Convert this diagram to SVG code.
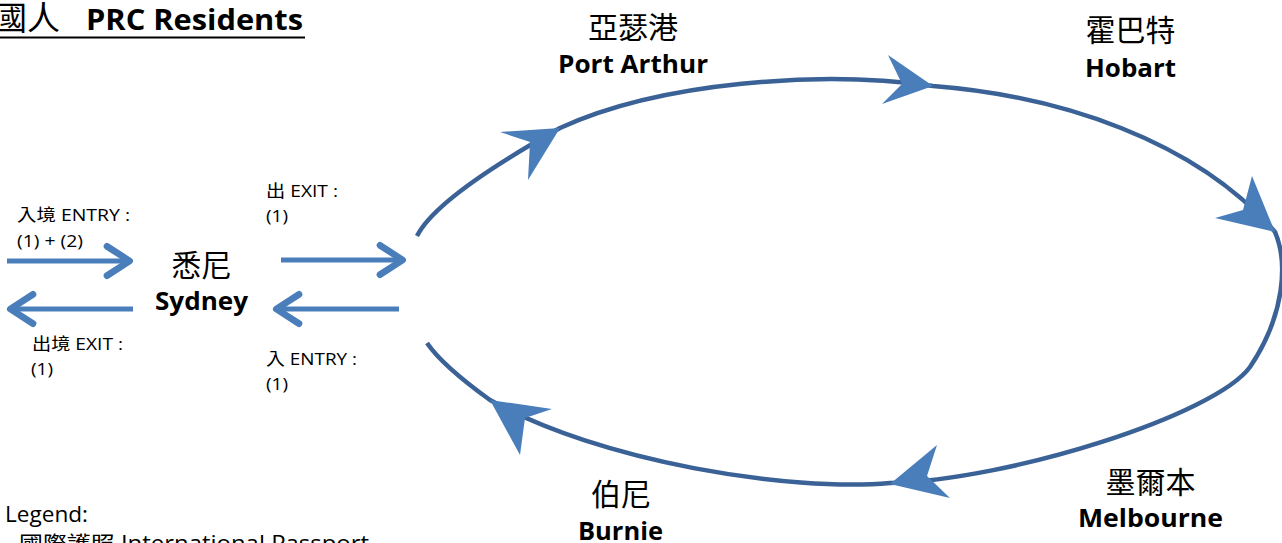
<svg xmlns="http://www.w3.org/2000/svg" width="1282" height="543" viewBox="0 0 1282 543">
<style>
text{font-family:"Open Sans","Noto Sans CJK TC",sans-serif;fill:#000}
.cjk{font-family:"Noto Sans CJK TC",sans-serif;font-size:30px}
.en{font-weight:bold;font-size:25px}
.sm{font-size:17px}
.loop{fill:none;stroke:#3B6296;stroke-width:4.5}
.head{fill:#4A7EBB;stroke:none}
.str{stroke:#4A7EBB;stroke-width:5;fill:none}
</style>
<defs>
<marker id="chev" markerUnits="userSpaceOnUse" markerWidth="40" markerHeight="40" viewBox="-25 -15 30 30" refX="0" refY="0" orient="auto" overflow="visible">
<path d="M-18,-11 L-1,0 L-18,11" fill="none" stroke="#4A7EBB" stroke-width="5" stroke-linecap="round" stroke-linejoin="round"/>
</marker>
</defs>

<g id="title">
<text x="-6" y="30" font-size="33" font-family="'Noto Sans CJK TC',sans-serif">國人</text>
<text x="86" y="30" font-size="28" font-weight="bold" textLength="217" lengthAdjust="spacingAndGlyphs">PRC Residents</text>
<line x1="0" y1="37.5" x2="305" y2="37.5" stroke="#000" stroke-width="2"/>
</g>

<g id="connectors">
<path class="loop" d="M417,236 C435,200 517,152 560,128 C660,82 820,70 933,86 C1060,96 1195,140 1275,232 C1288,262 1285,315 1250,367 C1215,415 1010,480 890,483 C790,492 600,462 490,400 C465,382 440,362 427,343"/>
<polygon class="head" points="560,128 500,132 530,142 528,180"/>
<polygon class="head" points="933,86 888,55 902,84 882,104"/>
<polygon class="head" points="1275,232 1252,176 1243,210 1215,218"/>
<polygon class="head" points="890,484 937,445 927,476 950,498"/>
<polygon class="head" points="490,400 552,409 525,418 520,455"/>
<line class="str" x1="7" y1="261" x2="131" y2="261" marker-end="url(#chev)"/>
<line class="str" x1="133" y1="309" x2="9" y2="309" marker-end="url(#chev)"/>
<line class="str" x1="281" y1="260" x2="404" y2="260" marker-end="url(#chev)"/>
<line class="str" x1="399" y1="309" x2="275" y2="309" marker-end="url(#chev)"/>
</g>

<g id="labels-sydney">
<text class="sm" x="17" y="221" textLength="113" lengthAdjust="spacingAndGlyphs">入境 ENTRY :</text>
<text class="sm" x="17" y="247" textLength="66" lengthAdjust="spacingAndGlyphs">(1) + (2)</text>
<text class="sm" x="32" y="350" textLength="91" lengthAdjust="spacingAndGlyphs">出境 EXIT :</text>
<text class="sm" x="31" y="375" textLength="22" lengthAdjust="spacingAndGlyphs">(1)</text>
<text class="sm" x="266" y="197" textLength="72" lengthAdjust="spacingAndGlyphs">出 EXIT :</text>
<text class="sm" x="266" y="222" textLength="22" lengthAdjust="spacingAndGlyphs">(1)</text>
<text class="sm" x="266" y="365" textLength="91" lengthAdjust="spacingAndGlyphs">入 ENTRY :</text>
<text class="sm" x="266" y="390" textLength="22" lengthAdjust="spacingAndGlyphs">(1)</text>
</g>

<g id="sydney">
<text class="cjk" x="201.5" y="276" text-anchor="middle">悉尼</text>
<text class="en" x="155" y="310" textLength="93" lengthAdjust="spacingAndGlyphs">Sydney</text>
</g>

<g id="port-arthur">
<text class="cjk" x="633" y="38" text-anchor="middle">亞瑟港</text>
<text class="en" x="558" y="73" textLength="150" lengthAdjust="spacingAndGlyphs">Port Arthur</text>
</g>

<g id="hobart">
<text class="cjk" x="1130.5" y="41" text-anchor="middle">霍巴特</text>
<text class="en" x="1085" y="77" textLength="91" lengthAdjust="spacingAndGlyphs">Hobart</text>
</g>

<g id="melbourne">
<text class="cjk" x="1150.5" y="493" text-anchor="middle">墨爾本</text>
<text class="en" x="1078" y="527" textLength="145" lengthAdjust="spacingAndGlyphs">Melbourne</text>
</g>

<g id="burnie">
<text class="cjk" x="621" y="505" text-anchor="middle">伯尼</text>
<text class="en" x="578" y="540" textLength="85" lengthAdjust="spacingAndGlyphs">Burnie</text>
</g>

<g id="legend">
<text x="5" y="522" font-size="21" textLength="83" lengthAdjust="spacingAndGlyphs">Legend:</text>
<text x="19" y="551" font-size="21" textLength="350" lengthAdjust="spacingAndGlyphs">國際護照 International Passport</text>
</g>
</svg>
